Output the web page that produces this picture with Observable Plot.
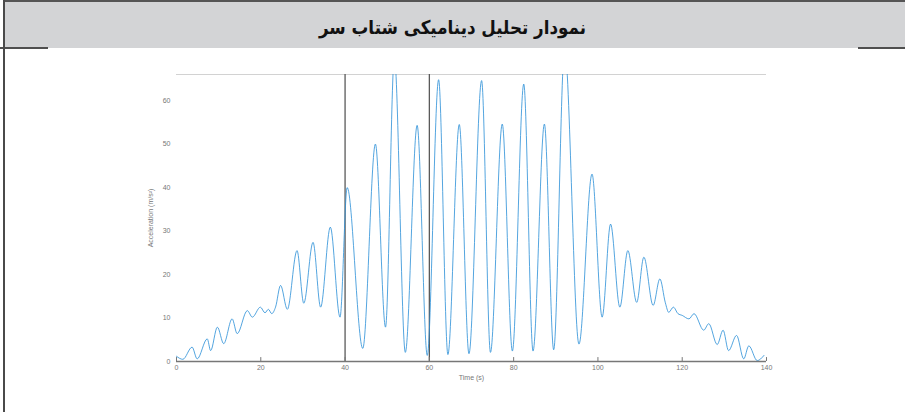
<!DOCTYPE html>
<html>
<head>
<meta charset="utf-8">
<script src="https://cdn.jsdelivr.net/npm/d3@7"></script>
<script src="https://cdn.jsdelivr.net/npm/@observablehq/plot@0.6"></script>
<style>
  html, body { margin: 0; padding: 0; background: #fff; }
  #frame { position: relative; width: 905px; height: 412px; overflow: hidden; background: #fff; }
  #leftBorder { position: absolute; left: 3px; top: 0; width: 2px; height: 412px; background: #4a4a4a; }
  #titleBar { position: absolute; left: 3px; top: 0; width: 902px; height: 48px; background: #d3d4d6;
              border-top: 2px solid #555; box-sizing: border-box; }
  #titleText { position: absolute; left: 0; top: 4px; width: 905px; height: 46px; line-height: 46px; text-align: center;
               font-family: "DejaVu Sans", sans-serif; font-weight: bold; font-size: 19px; color: #111; direction: rtl;
               transform: scaleX(0.88); transform-origin: 452px 50%; }
  .seg { position: absolute; top: 47px; height: 2px; background: #4f4f4f; }
  #chart { position: absolute; left: 0; top: 48px; }
</style>
</head>
<body>
<div id="frame">
  <div id="titleBar"></div>
  <div id="titleText"></div>
  <div class="seg" style="left:0;width:48px"></div>
  <div class="seg" style="left:858px;width:47px"></div>
  <div id="leftBorder"></div>
  <div id="chart"></div>
</div>
<script>
const time = [0.0, 1.5, 3.7, 4.9, 7.3, 8.1, 9.7, 11.2, 13.2, 14.4, 16.8, 18.0, 19.9, 21.0, 21.8, 22.6, 23.5,
  24.7, 26.3, 28.6, 30.2, 32.4, 34.2, 36.5, 38.8, 40.5, 44.2, 47.2, 49.6, 51.7, 54.3, 57.1, 59.5,
  62.2, 64.4, 67.1, 69.4, 72.4, 74.5, 77.3, 79.7, 82.4, 84.6, 87.3, 89.5, 92.1, 95.5, 98.6, 101.0,
  103.0, 105.2, 107.1, 109.2, 110.9, 113.1, 114.7, 116.0, 116.8, 117.9, 119.0, 120.0, 121.6, 122.8,
  125.1, 126.3, 128.3, 129.7, 131.0, 132.9, 134.6, 135.8, 137.8, 139.4];
const acceleration = [1.2, 0.5, 3.3, 0.6, 5.2, 2.5, 7.9, 4.1, 9.8, 6.4, 11.7, 10.2, 12.5, 11.2, 12.0, 11.0, 12.5,
  17.5, 12.0, 25.5, 13.4, 27.4, 12.5, 30.9, 10.2, 40.0, 3.0, 50.0, 7.9, 70.0, 2.1, 54.3, 1.4,
  64.8, 1.6, 54.5, 1.8, 64.6, 2.1, 54.6, 2.4, 63.8, 2.4, 54.6, 2.7, 72.0, 4.0, 43.1, 10.2,
  31.6, 12.5, 25.5, 13.6, 24.0, 12.9, 19.0, 13.5, 11.3, 12.5, 11.0, 10.6, 9.8, 11.0,
  7.2, 8.7, 3.9, 7.2, 2.5, 6.0, 0.6, 3.6, 0.2, 1.4];
const xTicks = [0, 20, 40, 60, 80, 100, 120, 140];
const yTicks = [0, 10, 20, 30, 40, 50, 60];
const markerLines = [40, 60];
const yMax = [66];
const title = "نمودار تحلیل دینامیکی شتاب سر";
const xLabel = "Time (s)";
const yLabel = "Acceleration (m/s²)";

document.getElementById("titleText").textContent = title;

const data = time.map((t, i) => ({t, a: acceleration[i]}));

const chart = Plot.plot({
  width: 905,
  height: 364,
  marginTop: 26,
  marginBottom: 51,
  marginLeft: 176,
  marginRight: 139,
  style: {fontFamily: "Liberation Sans, Arial, sans-serif", fontSize: "7px", color: "#777", background: "transparent"},
  x: {domain: [0, 140]},
  y: {domain: [0, 66]},
  marks: [
    Plot.ruleY(yMax, {stroke: "#d2d2d2", strokeWidth: 1.2}),
    Plot.ruleX(markerLines, {stroke: "#5a5a5a", strokeWidth: 1.3}),
    Plot.ruleX(xTicks, {y1: 0, y2: 0.9, stroke: "#777"}),
    Plot.line(data, {x: "t", y: "a", stroke: "#2b8fd8", strokeWidth: 0.9, strokeOpacity: 0.9, curve: "monotone-x", clip: true}),
    Plot.ruleY([0], {stroke: "#777", strokeWidth: 1.5}),
    Plot.axisX({ticks: xTicks, tickSize: 0, tickPadding: 4, label: xLabel, labelAnchor: "center", labelOffset: 18, labelArrow: false, fill: "#777"}),
    Plot.axisY({ticks: yTicks, tickSize: 0, tickPadding: 6, label: yLabel, labelAnchor: "center", labelOffset: 28, labelArrow: false, fill: "#777"})
  ]
});
document.getElementById("chart").appendChild(chart);
</script>
</body>
</html>
